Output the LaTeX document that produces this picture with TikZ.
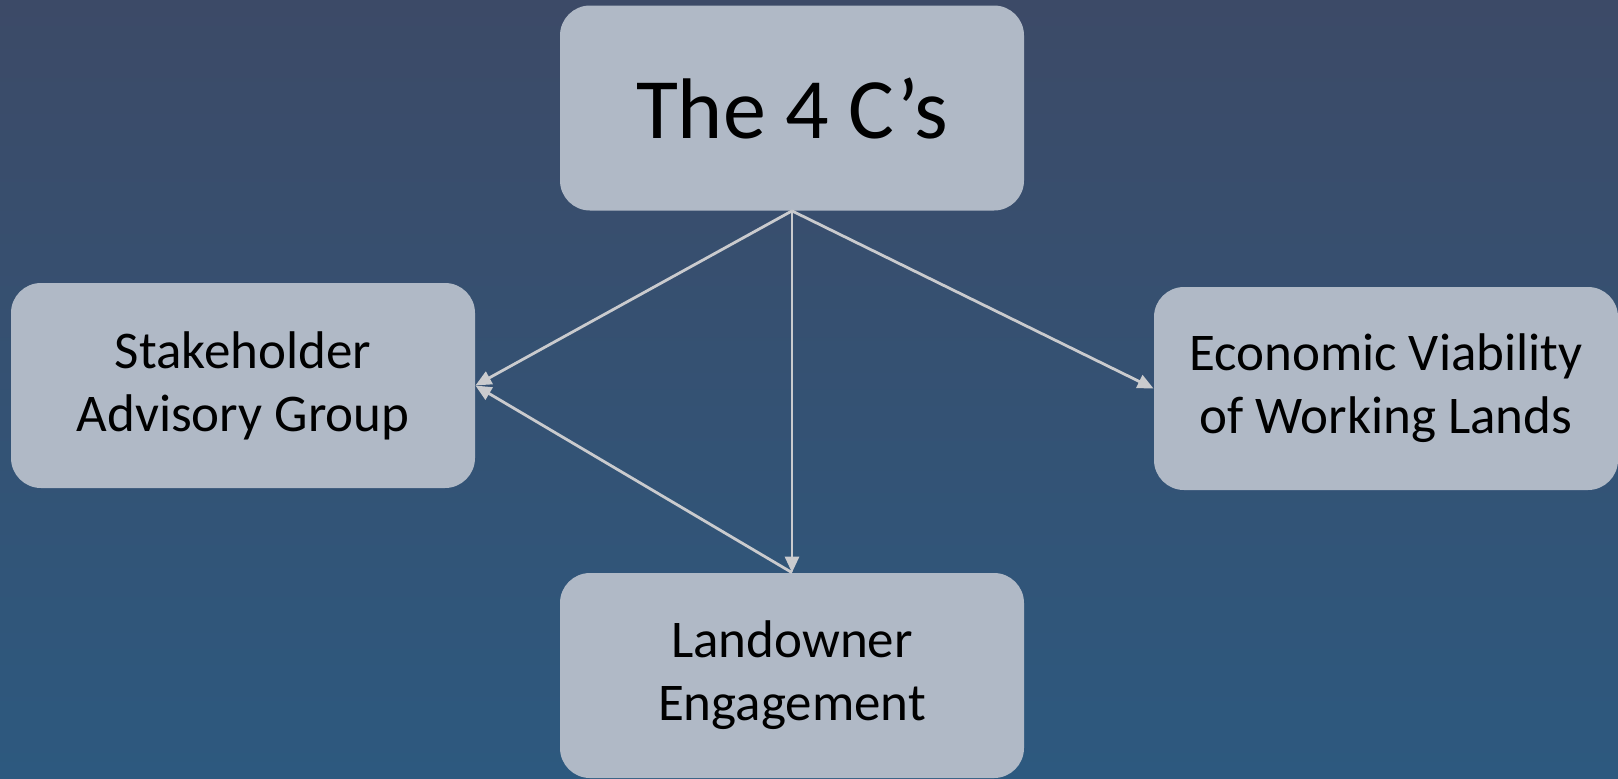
\documentclass[tikz,border=0pt]{standalone}
\usepackage{fontspec}
\setmainfont{Carlito}
\usetikzlibrary{arrows.meta}

\definecolor{skytop}{RGB}{60,74,103}
\definecolor{skybottom}{RGB}{45,89,127}
\definecolor{boxfill}{RGB}{176,185,198}
\definecolor{linkgray}{RGB}{202,203,206}

\tikzset{
  cbox/.style={fill=boxfill, rounded corners=15pt, minimum width=232pt,
    minimum height=102.5pt, inner sep=0pt, align=center, text=black,
    font=\fontsize{26.5}{31.5}\selectfont},
  link/.style={draw=linkgray, line width=1.4pt, -{Triangle[length=8pt,width=7pt]}}
}

\begin{document}
\begin{tikzpicture}[x=0.5pt,y=0.5pt,yscale=-1,xscale=1]
    %background sky
    \useasboundingbox (0,0) rectangle (1618,778);
    \shade [top color=skytop, bottom color=skybottom] (0,0) rectangle (1618,778);

    % Boxes
    \node [cbox, font=\fontsize{43}{52}\selectfont] (cs) at (792,108) {The 4 C’s};
    \node [cbox] (stake) at (243,385.5) {Stakeholder\\Advisory Group};
    \node [cbox, minimum height=101.5pt] (econ) at (1386,388.5) {Economic Viability\\of Working Lands};
    \node [cbox] (land) at (792,675.5) {Landowner\\Engagement};

    % Arrows
    \draw [link] (cs.south) -- (stake.east);
    \draw [link] (cs.south) -- (land.north);
    \draw [link] (cs.south) -- (econ.west);
    \draw [link] (land.north) -- (stake.east);

\end{tikzpicture}
\end{document}
